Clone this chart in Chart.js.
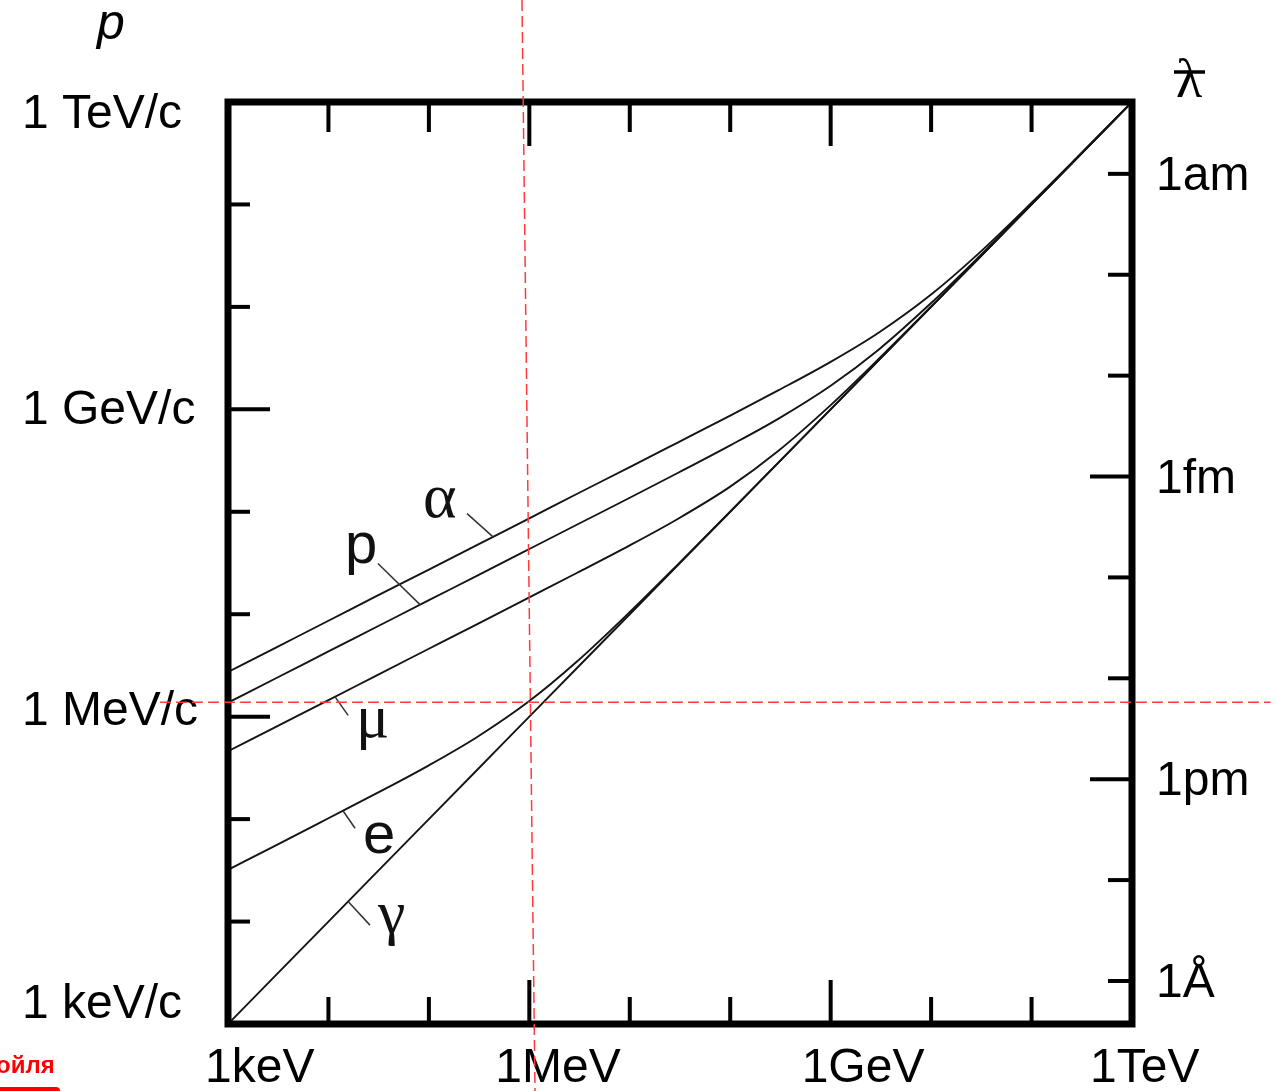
<!DOCTYPE html>
<html>
<head>
<meta charset="utf-8">
<script src="https://cdn.jsdelivr.net/npm/chart.js@4.4.1/dist/chart.umd.min.js"></script>
<style>
  html, body { margin: 0; padding: 0; background: #ffffff; }
  canvas { display: block; }
</style>
</head>
<body>
<canvas id="chart" width="1278" height="1091"></canvas>
<script>
// Kinetic energy T (keV) and momentum p (keV/c) of each particle
const energyKeV = [1, 3, 10, 30, 100, 300, 1e3, 3e3, 1e4, 3e4, 1e5, 3e5, 1e6, 3e6, 1e7, 3e7, 1e8, 3e8, 1e9];
const pAlpha    = [2730, 4730, 8630, 15000, 27300, 47300, 86300, 150000, 273000, 474000, 869000, 1530000, 2910000, 5600000, 13200000, 33500000, 104000000, 304000000, 1000000000];
const pProton   = [1370, 2370, 4330, 7500, 13700, 23700, 43300, 75100, 137000, 239000, 445000, 808000, 1700000, 3820000, 10900000, 30900000, 101000000, 301000000, 1000000000];
const pMuon     = [460, 796, 1450, 2520, 4600, 7970, 14600, 25400, 47000, 85100, 176000, 392000, 1100000, 3100000, 10100000, 30100000, 100000000, 300000000, 1000000000];
const pElectron = [32.0, 55.5, 102, 178, 335, 630, 1420, 3470, 10500, 30500, 100500, 300500, 1000000, 3000000, 10000000, 30000000, 100000000, 300000000, 1000000000];
const pPhoton   = [1, 3, 10, 30, 100, 300, 1e3, 3e3, 1e4, 3e4, 1e5, 3e5, 1e6, 3e6, 1e7, 3e7, 1e8, 3e8, 1e9];

// Curve names and their leader lines (T keV, p keV/c): point on the curve, outer end
const curveNames    = ['α', 'p', 'μ', 'e', 'γ'];
const leaderOnCurve = [[435, 56900], [81.6, 12400], [11.6, 1570], [14.0, 120], [15.7, 15.7]];
const leaderOuter   = [[240, 96000], [31.1, 31300], [15.7, 1030], [18.4, 81.5], [25.9, 9.23]];

// Axis ticks
const energyTickValues   = [1, 1e3, 1e6, 1e9];
const energyTickLabels   = ['1keV', '1MeV', '1GeV', '1TeV'];
const momentumTickValues = [1, 1e3, 1e6, 1e9];
const momentumTickLabels = ['1 keV/c', '1 MeV/c', '1 GeV/c', '1 TeV/c'];
const lambdaTickValues   = [1e-18, 1e-15, 1e-12, 1e-10];   // metres
const lambdaTickLabels   = ['1am', '1fm', '1pm', '1Å'];
const lambdaRange        = [1.94e-19, 2.67e-10];            // reduced wavelength at top / bottom

// Reference guides: 1 MeV (slightly slanted) and 1 MeV/c
const guideEnergyTop = 845, guideEnergyBottom = 1139;      // keV
const guideMomentum = 1380;                                 // keV/c
const guideMomentumSpan = [0.21, 2.4e10];                   // keV

const SANS = '"Liberation Sans", Arial, Helvetica, sans-serif';
const SERIF = '"Liberation Serif", "Times New Roman", serif';

function series(ys) {
  return energyKeV.map((t, i) => ({ x: t, y: ys[i] }));
}

function curve(ys) {
  return {
    data: series(ys),
    borderColor: '#141414',
    borderWidth: 1.9,
    pointRadius: 0,
    fill: false,
    cubicInterpolationMode: 'monotone'
  };
}

const decorations = {
  id: 'decorations',
  afterDatasetsDraw(chart) {
    const ctx = chart.ctx;
    const xs = chart.scales.x, ys = chart.scales.y;
    // leader lines and curve names
    const labelOffsets = [[-44, 3], [-33, 0], [8, 22], [8, 25], [8, 8]];
    const labelFonts = [SERIF, SANS, SERIF, SANS, SERIF];
    const labelSizes = [64, 58, 62, 58, 62];
    ctx.save();
    ctx.strokeStyle = '#333';
    ctx.lineWidth = 1.5;
    curveNames.forEach((name, i) => {
      const ax = xs.getPixelForValue(leaderOnCurve[i][0]);
      const ay = ys.getPixelForValue(leaderOnCurve[i][1]);
      const bx = xs.getPixelForValue(leaderOuter[i][0]);
      const by = ys.getPixelForValue(leaderOuter[i][1]);
      ctx.beginPath();
      ctx.moveTo(ax, ay);
      ctx.lineTo(bx, by);
      ctx.stroke();
      ctx.fillStyle = '#111';
      ctx.font = labelSizes[i] + 'px ' + labelFonts[i];
      ctx.textAlign = 'left';
      ctx.textBaseline = 'alphabetic';
      ctx.fillText(name, bx + labelOffsets[i][0], by + labelOffsets[i][1]);
    });
    ctx.restore();
  },
  afterDraw(chart) {
    const ctx = chart.ctx;
    const a = chart.chartArea;
    const xs = chart.scales.x, ys = chart.scales.y, ls = chart.scales.yL;
    ctx.save();

    // frame
    ctx.strokeStyle = '#000';
    ctx.lineWidth = 7;
    ctx.lineJoin = 'miter';
    ctx.strokeRect(a.left, a.top, a.right - a.left, a.bottom - a.top);

    // inward tick marks
    ctx.lineWidth = 4;
    ctx.lineCap = 'butt';
    for (let k = 1; k <= 8; k++) {
      const v = Math.pow(10, k);
      const major = (k % 3 === 0);
      const x = xs.getPixelForValue(v);
      ctx.beginPath();
      ctx.moveTo(x, a.bottom); ctx.lineTo(x, a.bottom - (major ? 44 : 27));
      ctx.moveTo(x, a.top);    ctx.lineTo(x, a.top + (major ? 44 : 30));
      ctx.stroke();
      const y = ys.getPixelForValue(v);
      ctx.beginPath();
      ctx.moveTo(a.left, y); ctx.lineTo(a.left + (major ? 42 : 22), y);
      ctx.stroke();
    }
    for (let k = -18; k <= -10; k++) {
      const v = Math.pow(10, k);
      const major = (k === -15 || k === -12);
      const y = ls.getPixelForValue(v);
      ctx.beginPath();
      ctx.moveTo(a.right, y); ctx.lineTo(a.right - (major ? 42 : 24), y);
      ctx.stroke();
    }

    // tick labels
    ctx.fillStyle = '#000';
    ctx.font = '48px ' + SANS;
    ctx.textBaseline = 'alphabetic';
    ctx.textAlign = 'left';
    const energyDx = [-23, -34, -29, -42];
    energyTickValues.forEach((v, i) => {
      ctx.fillText(energyTickLabels[i], xs.getPixelForValue(v) + energyDx[i], a.bottom + 58);
    });
    const momentumDy = [-6, 8, 15, 26];
    momentumTickValues.forEach((v, i) => {
      ctx.fillText(momentumTickLabels[i], 22, ys.getPixelForValue(v) + momentumDy[i]);
    });
    lambdaTickValues.forEach((v, i) => {
      ctx.fillText(lambdaTickLabels[i], a.right + 24, ls.getPixelForValue(v) + 16);
    });

    // axis titles: p and reduced wavelength (lambda with a bar)
    ctx.font = 'italic 50px ' + SANS;
    ctx.fillText('p', 97, a.top - 63);
    ctx.font = '54px ' + SERIF;
    ctx.textAlign = 'center';
    ctx.fillText('λ', a.right + 57, a.top - 5);
    ctx.lineWidth = 3.5;
    ctx.beginPath();
    ctx.moveTo(a.right + 42, a.top - 30);
    ctx.lineTo(a.right + 73, a.top - 30);
    ctx.stroke();

    // dashed guides at 1 MeV / 1 MeV/c
    ctx.strokeStyle = '#ff3b3b';
    ctx.lineWidth = 1.5;
    ctx.setLineDash([11, 5]);
    ctx.beginPath();
    ctx.moveTo(xs.getPixelForValue(guideEnergyTop), 0);
    ctx.lineTo(xs.getPixelForValue(guideEnergyBottom), chart.height);
    ctx.stroke();
    const gy = ys.getPixelForValue(guideMomentum);
    ctx.beginPath();
    ctx.moveTo(xs.getPixelForValue(guideMomentumSpan[0]), gy);
    ctx.lineTo(xs.getPixelForValue(guideMomentumSpan[1]), gy);
    ctx.stroke();
    ctx.setLineDash([]);

    // red caption fragment at the lower left corner
    ctx.fillStyle = '#ff0000';
    ctx.font = 'bold 24px ' + SANS;
    ctx.textAlign = 'left';
    ctx.fillText('ойля', -4, chart.height - 18);
    ctx.beginPath();
    ctx.roundRect(-10, chart.height - 4, 70, 8, 4);
    ctx.fill();

    ctx.restore();
  }
};

new Chart(document.getElementById('chart'), {
  type: 'line',
  data: {
    datasets: [curve(pAlpha), curve(pProton), curve(pMuon), curve(pElectron), curve(pPhoton)]
  },
  options: {
    responsive: false,
    animation: false,
    devicePixelRatio: 1,
    layout: { padding: { left: 228, right: 146, top: 102, bottom: 67 } },
    plugins: { legend: { display: false }, tooltip: { enabled: false } },
    scales: {
      x: { type: 'logarithmic', min: 1, max: 1e9, display: false },
      y: { type: 'logarithmic', min: 1, max: 1e9, display: false },
      yL: { type: 'logarithmic', position: 'right', reverse: true,
            min: lambdaRange[0], max: lambdaRange[1], display: false }
    }
  },
  plugins: [decorations]
});
</script>
</body>
</html>
